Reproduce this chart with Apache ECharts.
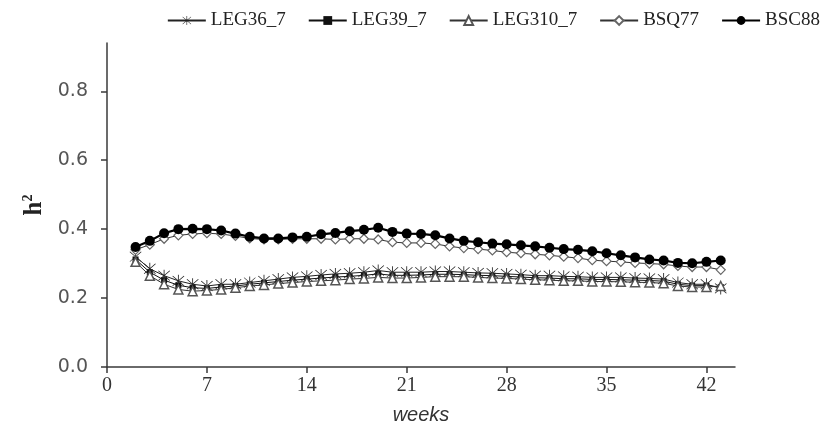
<!DOCTYPE html>
<html><head><meta charset="utf-8">
<script src="https://cdn.jsdelivr.net/npm/echarts@6/dist/echarts.min.js"></script>
<style>html,body{margin:0;padding:0;background:#fff}#c{width:828px;height:443px}</style>
</head><body><div id="c"></div>
<script>
var weeks = [2,3,4,5,6,7,8,9,10,11,12,13,14,15,16,17,18,19,20,21,22,23,24,25,26,27,28,29,30,31,32,33,34,35,36,37,38,39,40,41,42,43];
var LEG36_7 = [0.320,0.285,0.265,0.250,0.240,0.235,0.240,0.240,0.245,0.250,0.255,0.260,0.263,0.267,0.270,0.272,0.275,0.280,0.275,0.275,0.275,0.277,0.277,0.275,0.273,0.272,0.270,0.268,0.265,0.265,0.263,0.262,0.260,0.260,0.260,0.258,0.257,0.255,0.245,0.240,0.240,0.228];
var LEG39_7 = [0.312,0.275,0.252,0.237,0.230,0.228,0.232,0.235,0.240,0.244,0.248,0.252,0.255,0.258,0.261,0.263,0.266,0.270,0.266,0.266,0.267,0.269,0.269,0.268,0.266,0.265,0.263,0.261,0.259,0.258,0.256,0.256,0.254,0.254,0.253,0.252,0.251,0.249,0.240,0.236,0.236,0.232];
var LEG310_7 = [0.305,0.265,0.240,0.225,0.220,0.222,0.225,0.230,0.235,0.238,0.242,0.245,0.248,0.250,0.252,0.255,0.257,0.260,0.258,0.258,0.260,0.262,0.262,0.262,0.260,0.258,0.257,0.255,0.253,0.252,0.250,0.250,0.248,0.248,0.247,0.246,0.245,0.243,0.235,0.232,0.232,0.235];
var BSQ77 = [0.340,0.355,0.372,0.382,0.386,0.388,0.386,0.380,0.373,0.370,0.370,0.372,0.372,0.372,0.370,0.372,0.372,0.370,0.362,0.360,0.360,0.357,0.350,0.345,0.342,0.338,0.333,0.330,0.327,0.324,0.320,0.316,0.310,0.307,0.305,0.302,0.300,0.298,0.293,0.290,0.290,0.282];
var BSC88 = [0.348,0.366,0.388,0.400,0.401,0.400,0.396,0.387,0.378,0.373,0.373,0.376,0.378,0.385,0.389,0.394,0.398,0.404,0.392,0.387,0.386,0.382,0.373,0.366,0.362,0.358,0.356,0.353,0.350,0.346,0.342,0.340,0.336,0.330,0.324,0.318,0.312,0.309,0.302,0.301,0.305,0.309];
var seriesNames = ['LEG36_7','LEG39_7','LEG310_7','BSQ77','BSC88'];
var xTicks = [0,7,14,21,28,35,42];
var yTicks = [0,0.2,0.4,0.6,0.8];

function pairs(v){ return weeks.map(function(w,i){ return [w, v[i]]; }); }
var asterisk = 'path://M9.4 0L10.6 0L10.6 20L9.4 20Z M1.4 2.2L2.2 1.4L18.6 17.8L17.8 18.6Z M17.8 1.4L18.6 2.2L2.2 18.6L1.4 17.8Z';

var chart = echarts.init(document.getElementById('c'), null, {renderer:'canvas'});
var axisCol = '#3a3a3a';
chart.setOption({
  animation:false,
  backgroundColor:'#fff',
  legend:{right:3, top:6, itemWidth:38, itemHeight:11, itemGap:22,
    textStyle:{fontFamily:'Liberation Serif', fontSize:19, color:'#222'}, data:seriesNames},
  grid:{left:107, right:93, top:43, bottom:76, containLabel:false},
  xAxis:{
    type:'value', min:0, max:44,
    name:'weeks', nameLocation:'middle', nameGap:38,
    nameTextStyle:{fontFamily:'Liberation Sans', fontStyle:'italic', fontSize:20, color:'#333'},
    axisLine:{lineStyle:{color:axisCol, width:1.5}},
    axisTick:{show:true, length:6, lineStyle:{color:axisCol, width:1.5}, customValues:xTicks},
    axisLabel:{customValues:xTicks, margin:9, fontFamily:'Liberation Serif', fontSize:20, color:'#333'},
    splitLine:{show:false}
  },
  yAxis:{
    type:'value', min:0, max:0.94,
    name:'{b|h}{s|2}', nameLocation:'middle', nameGap:58, nameRotate:90,
    nameTextStyle:{rich:{b:{fontFamily:'Liberation Serif', fontWeight:'bold', fontSize:25, color:'#222'}, s:{fontFamily:'Liberation Serif', fontWeight:'bold', fontSize:14, color:'#222', verticalAlign:'top', padding:[0,0,8,0]}}},
    axisLine:{show:true, lineStyle:{color:axisCol, width:1.5}},
    axisTick:{show:true, length:6, lineStyle:{color:axisCol, width:1.5}, customValues:yTicks},
    axisLabel:{customValues:yTicks, margin:19, fontFamily:'DejaVu Sans', fontSize:19, color:'#555', formatter:function(v){return v.toFixed(1);}},
    splitLine:{show:false}
  },
  series:[
    {name:'LEG36_7', type:'line', data:pairs(LEG36_7), symbol:asterisk, symbolSize:12, showAllSymbol:true,
     lineStyle:{color:'#222', width:1}, itemStyle:{color:'#222'}, z:3},
    {name:'LEG39_7', type:'line', data:pairs(LEG39_7), symbol:'rect', symbolSize:6, showAllSymbol:true,
     lineStyle:{color:'#111', width:1}, itemStyle:{color:'#111'}, z:2},
    {name:'LEG310_7', type:'line', data:pairs(LEG310_7), symbol:'triangle', symbolSize:9, showAllSymbol:true,
     lineStyle:{color:'#333', width:1}, itemStyle:{color:'#fff', borderColor:'#555', borderWidth:1.5}, z:4},
    {name:'BSQ77', type:'line', data:pairs(BSQ77), symbol:'diamond', symbolSize:9, showAllSymbol:true,
     lineStyle:{color:'#333', width:1}, itemStyle:{color:'#fff', borderColor:'#666', borderWidth:1.2}, z:3},
    {name:'BSC88', type:'line', data:pairs(BSC88), symbol:'circle', symbolSize:10, showAllSymbol:true,
     lineStyle:{color:'#000', width:2.2}, itemStyle:{color:'#000'}, z:5}
  ]
});
</script></body></html>
